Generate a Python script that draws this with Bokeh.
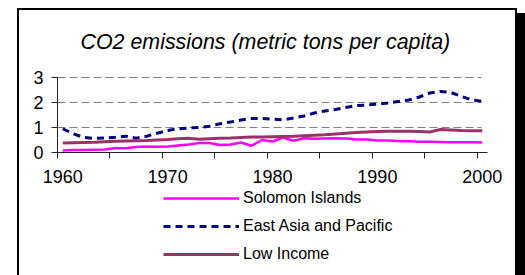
from bokeh.plotting import figure
from bokeh.models import Range1d, FixedTicker, Legend, LegendItem, Title
from bokeh.embed import file_html
from bokeh.resources import INLINE

years = list(range(1960, 2001))
solomon = [0.08, 0.10, 0.10, 0.11, 0.12, 0.17, 0.17, 0.22, 0.24, 0.23,
           0.24, 0.28, 0.32, 0.38, 0.38, 0.30, 0.32, 0.40, 0.27, 0.50,
           0.44, 0.60, 0.47, 0.57, 0.55, 0.56, 0.57, 0.56, 0.52, 0.52,
           0.48, 0.48, 0.46, 0.45, 0.43, 0.43, 0.42, 0.41, 0.41, 0.41, 0.40]
east_asia = [0.95, 0.75, 0.60, 0.56, 0.58, 0.61, 0.65, 0.57, 0.65, 0.77,
             0.88, 0.95, 0.98, 1.00, 1.05, 1.15, 1.22, 1.30, 1.36, 1.36,
             1.33, 1.31, 1.38, 1.46, 1.58, 1.66, 1.72, 1.80, 1.88, 1.90,
             1.93, 1.98, 2.04, 2.10, 2.22, 2.38, 2.44, 2.40, 2.25, 2.10, 2.05]
low_income = [0.38, 0.39, 0.40, 0.41, 0.43, 0.45, 0.46, 0.47, 0.48, 0.50,
              0.52, 0.55, 0.57, 0.53, 0.55, 0.57, 0.58, 0.60, 0.62, 0.62,
              0.63, 0.64, 0.65, 0.67, 0.69, 0.71, 0.74, 0.77, 0.80, 0.82,
              0.84, 0.85, 0.85, 0.85, 0.84, 0.82, 0.92, 0.90, 0.88, 0.87, 0.87]
series_names = ["Solomon Islands", "East Asia and Pacific", "Low Income"]
x_labels = [1960, 1970, 1980, 1990, 2000]
y_ticks = [0, 1, 2, 3]
title_text = "CO2 emissions (metric tons per capita)"

FONT = "Liberation Sans"

# layout geometry (pixels)
AXIS_W = 430.0          # width of the category axis
PPY = AXIS_W / len(years)
PPU = 25.0              # pixels per y unit
FRAME_W, FRAME_H = 480, 202
LEFT_PAD, TOP_PAD, BELOW = 32.0, 12.0, 115.0

x0 = years[0] - 0.5
x1 = x0 + len(years)
x_start = x0 - LEFT_PAD / PPY
x_end = x_start + FRAME_W / PPY
y_top = y_ticks[-1] + TOP_PAD / PPU
y_bottom = -BELOW / PPU

p = figure(frame_width=FRAME_W, frame_height=FRAME_H, output_backend="svg",
           toolbar_location=None,
           x_range=Range1d(x_start, x_end),
           y_range=Range1d(y_bottom, y_top),
           min_border_left=6, min_border_right=10, min_border_top=55, min_border_bottom=10)
p.styles = {"border": "2px solid black", "box-shadow": "8px 5px 0 0 black",
            "margin-left": "17px", "margin-top": "8px"}
p.outline_line_color = None
p.background_fill_color = "white"
p.border_fill_color = "white"

t = Title(text=title_text, align="left", offset=55, text_font=FONT,
          text_font_size="21.4px", text_font_style="italic", text_color="black",
          standoff=23)
p.add_layout(t, "above")

p.xgrid.grid_line_color = None
p.ygrid.grid_line_color = "#808080"
p.ygrid.grid_line_dash = "8 4"
p.ygrid.grid_line_width = 1
p.ygrid.cross_bounds = (x0, x1 - 0.6)

boundaries = [y - 0.5 for y in years[::5]]
p.xaxis.ticker = FixedTicker(ticks=x_labels, minor_ticks=boundaries)
p.xaxis.fixed_location = 0
p.xaxis.bounds = (x0, x1)
p.xaxis.major_tick_out = 0
p.xaxis.major_tick_in = 0
p.xaxis.minor_tick_out = 6
p.xaxis.minor_tick_in = 0
p.xaxis.major_label_standoff = 11
p.yaxis.ticker = FixedTicker(ticks=y_ticks)
p.yaxis.fixed_location = x0
p.yaxis.bounds = (y_ticks[0], y_ticks[-1])
p.yaxis.major_tick_out = 6
p.yaxis.major_tick_in = 0
p.yaxis.major_label_standoff = 8
for ax in (p.xaxis, p.yaxis):
    ax.axis_line_color = "#222222"
    ax.major_tick_line_color = "#222222"
    ax.minor_tick_line_color = "#222222"
    ax.major_label_text_font = FONT
    ax.major_label_text_font_size = "18px"
    ax.major_label_text_color = "black"
p.yaxis.minor_tick_line_color = None

r1 = p.line(years, solomon, line_color="#FF00FF", line_width=2.5)
r2 = p.line(years, east_asia, line_color="#000080", line_width=3, line_dash="7 5")
r3 = p.line(years, low_income, line_color="#993366", line_width=3)

legend = Legend(items=[LegendItem(label=series_names[0], renderers=[r1]),
                       LegendItem(label=series_names[1], renderers=[r2]),
                       LegendItem(label=series_names[2], renderers=[r3])],
                location=(LEFT_PAD + 106, 3), orientation="vertical",
                glyph_width=76, glyph_height=20, spacing=8, label_standoff=4,
                padding=0, margin=0, border_line_color=None,
                background_fill_alpha=0, label_text_font=FONT,
                label_text_font_size="16px", label_text_color="black")
p.add_layout(legend, "center")

open("out.html", "w").write(file_html(p, INLINE))
